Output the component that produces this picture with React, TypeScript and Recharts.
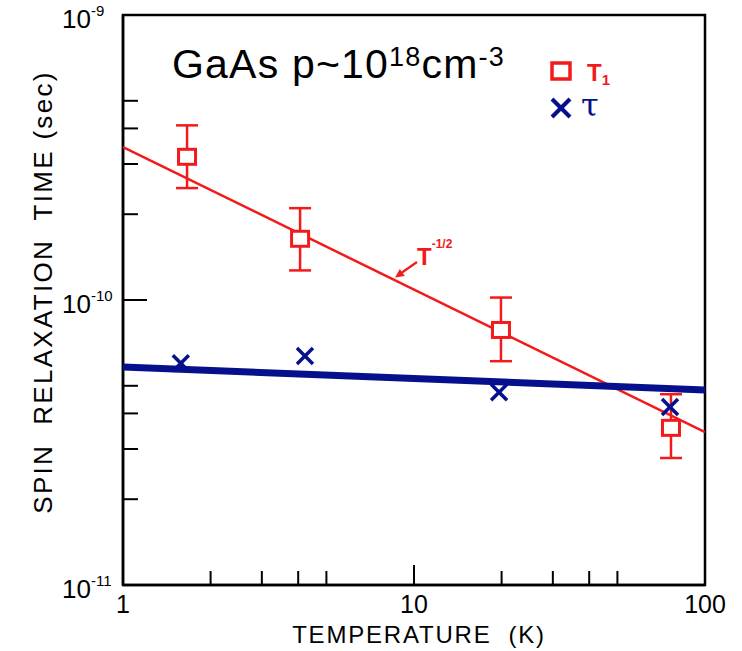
import { ScatterChart, Scatter, XAxis, YAxis, ErrorBar, ReferenceArea, Customized } from "recharts";

const RED = "#f21a1a";
const BLUE = "#06108c";
const FONT = "'Liberation Sans', Arial, Helvetica, sans-serif";

// T1 (squares with error bars)
const t1Temps = [1.66, 4.06, 19.9, 76.4];
const t1Values = [3.18e-10, 1.64e-10, 7.85e-11, 3.56e-11];
const t1Lower = [2.47e-10, 1.27e-10, 6.1e-11, 2.79e-11];
const t1Upper = [4.1e-10, 2.1e-10, 1.02e-10, 4.67e-11];

// tau (crosses)
const tauTemps = [1.58, 4.22, 19.6, 75.8];
const tauValues = [6.0e-11, 6.36e-11, 4.75e-11, 4.21e-11];

// fit lines, end points at T = 1 and T = 100
const fitTemps = [1, 100];
const t1Fit = [3.44e-10, 3.44e-11];
const tauFit = [5.82e-11, 4.83e-11];

const xTicks = [1, 2, 3, 4, 5, 10, 20, 30, 40, 50, 100];
const yTicks = [1e-11, 2e-11, 3e-11, 4e-11, 5e-11, 1e-10, 2e-10, 3e-10, 4e-10, 5e-10, 1e-9];

const t1Data = t1Temps.map((t, i) => ({
  t,
  v: t1Values[i],
  err: [t1Values[i] - t1Lower[i], t1Upper[i] - t1Values[i]],
}));
const tauData = tauTemps.map((t, i) => ({ t, v: tauValues[i] }));
const t1FitData = fitTemps.map((t, i) => ({ t, v: t1Fit[i] }));
const tauFitData = fitTemps.map((t, i) => ({ t, v: tauFit[i] }));

const isDecade = (v: number) => Math.abs(Math.log10(v) - Math.round(Math.log10(v))) < 1e-6;

const XTick = (props: any) => {
  const { x, y, payload } = props;
  const v = payload.value;
  const major = isDecade(v);
  return (
    <g>
      <line x1={x} y1={y} x2={x} y2={y - (major ? 20 : 14)} stroke="#000" strokeWidth={2} />
      {major && (
        <text x={x} y={y + 28} textAnchor="middle" fontSize={25} fontFamily={FONT} fill="#000">
          {v}
        </text>
      )}
    </g>
  );
};

const YTick = (props: any) => {
  const { x, y, payload } = props;
  const v = payload.value;
  const major = isDecade(v);
  const exp = Math.round(Math.log10(v));
  return (
    <g>
      <line x1={x} y1={y} x2={x + (major ? 24 : 15)} y2={y} stroke="#000" strokeWidth={2} />
      {major && (
        <text x={x - 61} y={y + 13} fontSize={26} fontFamily={FONT} fill="#000">
          10
          <tspan dy={-12} fontSize={15}>
            {exp}
          </tspan>
        </text>
      )}
    </g>
  );
};

const Square = (props: any) => {
  const { cx, cy } = props;
  return <rect x={cx - 8.5} y={cy - 7.5} width={17} height={15} fill="#fff" stroke={RED} strokeWidth={3} />;
};

const Cross = (props: any) => {
  const { cx, cy } = props;
  const s = 8;
  return (
    <g stroke={BLUE} strokeWidth={3.5}>
      <line x1={cx - s} y1={cy - s} x2={cx + s} y2={cy + s} />
      <line x1={cx - s} y1={cy + s} x2={cx + s} y2={cy - s} />
    </g>
  );
};

const NoDot = () => <g />;

const Annotations = () => (
  <g fontFamily={FONT}>
    <text x={172} y={78} fontSize={41} letterSpacing={1.2} fill="#000">
      GaAs p~10
      <tspan dy={-12} fontSize={27}>18</tspan>
      <tspan dy={12}>cm</tspan>
      <tspan dy={-12} fontSize={27}>-3</tspan>
    </text>

    {/* legend */}
    <rect x={552} y={63} width={18} height={16} fill="none" stroke={RED} strokeWidth={3.5} />
    <text x={587} y={81} fontSize={24} fontWeight="bold" fill={RED}>
      T<tspan dy={4} fontSize={15}>1</tspan>
    </text>
    <g stroke={BLUE} strokeWidth={4}>
      <line x1={552} y1={99} x2={570} y2={117} />
      <line x1={552} y1={117} x2={570} y2={99} />
    </g>
    <text x={581} y={116} fontSize={32} fontFamily="'DejaVu Serif', serif" fill={BLUE}>
      τ
    </text>

    {/* T^-1/2 label with arrow */}
    <text x={417} y={265} fontSize={24} fontWeight="bold" fill={RED}>
      T<tspan dy={-17} fontSize={12}>-1/2</tspan>
    </text>
    <line x1={417} y1={262} x2={402} y2={272.5} stroke={RED} strokeWidth={2.2} />
    <polygon points="395,277.5 404.8,276 399.8,269" fill={RED} />

    {/* axis titles */}
    <text
      transform="translate(52, 292) rotate(-90)"
      textAnchor="middle"
      fontSize={26}
      letterSpacing={2.3}
      style={{ whiteSpace: "pre" }}
      fill="#000"
    >
      {"SPIN  RELAXATION  TIME (sec)"}
    </text>
    <text x={419} y={643} textAnchor="middle" fontSize={24} letterSpacing={1.8} style={{ whiteSpace: "pre" }} fill="#000">
      {"TEMPERATURE  (K)"}
    </text>
  </g>
);

export default function App() {
  return (
    <div style={{ position: "absolute", left: 0, top: 0, width: 742, height: 651, background: "#fff" }}>
      <ScatterChart width={742} height={651} margin={{ top: 15, right: 37, bottom: 0, left: 0 }}>
        <XAxis
          dataKey="t"
          type="number"
          scale="log"
          domain={[1, 100]}
          allowDataOverflow
          ticks={xTicks}
          interval={0}
          height={66}
          tickSize={0}
          tickMargin={0}
          tickLine={false}
          axisLine={{ stroke: "#000", strokeWidth: 2.5 }}
          tick={<XTick />}
        />
        <YAxis
          dataKey="v"
          type="number"
          scale="log"
          domain={[1e-11, 1e-9]}
          allowDataOverflow
          ticks={yTicks}
          interval={0}
          width={123}
          tickSize={0}
          tickMargin={0}
          tickLine={false}
          axisLine={{ stroke: "#000", strokeWidth: 2.5 }}
          tick={<YTick />}
        />
        <ReferenceArea x1={1} x2={100} y1={1e-11} y2={1e-9} fill="none" stroke="#000" strokeWidth={2.5} ifOverflow="visible" />
        <Scatter data={t1FitData} line={{ stroke: RED, strokeWidth: 2.5 }} shape={<NoDot />} isAnimationActive={false} />
        <Scatter data={t1Data} shape={<Square />} isAnimationActive={false}>
          <ErrorBar dataKey="err" direction="y" width={11} stroke={RED} strokeWidth={2.5} isAnimationActive={false} />
        </Scatter>
        <Scatter data={tauFitData} line={{ stroke: BLUE, strokeWidth: 7 }} shape={<NoDot />} isAnimationActive={false} />
        <Scatter data={tauData} shape={<Cross />} isAnimationActive={false} />
        <Customized component={<Annotations />} />
      </ScatterChart>
    </div>
  );
}
